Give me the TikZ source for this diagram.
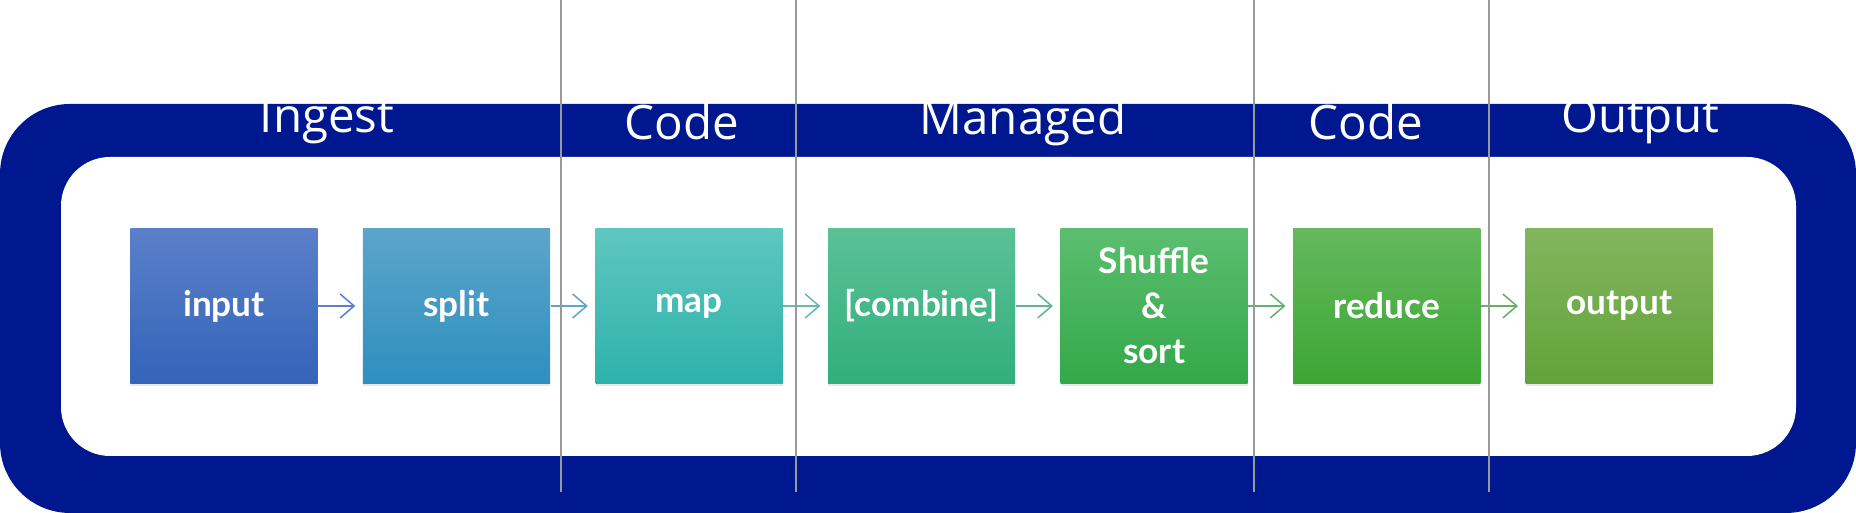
\documentclass[tikz,border=0pt]{standalone}
\usepackage{fontspec}
\setmainfont{Open Sans}
\newfontfamily\stagefont{Lato}
\usetikzlibrary{positioning,shadows,arrows.meta}
\definecolor{frameblue}{HTML}{00188F}
\definecolor{inputtop}{HTML}{5B80C9}
\definecolor{inputbot}{HTML}{3463B9}
\definecolor{splittop}{HTML}{5CA5CB}
\definecolor{splitbot}{HTML}{2E8FBE}
\definecolor{maptop}{HTML}{5EC6C0}
\definecolor{mapbot}{HTML}{2DB2AB}
\definecolor{combtop}{HTML}{5BC196}
\definecolor{combbot}{HTML}{31AF7B}
\definecolor{shuftop}{HTML}{5BBE6F}
\definecolor{shufbot}{HTML}{34A84A}
\definecolor{redtop}{HTML}{64B95D}
\definecolor{redbot}{HTML}{3DA634}
\definecolor{outtop}{HTML}{82B65E}
\definecolor{outbot}{HTML}{62A23A}
\tikzstyle{stage} = [rectangle, minimum width=1.87cm, minimum height=1.54cm, inner sep=0pt, align=center, text=white, font=\stagefont\bfseries\fontsize{10}{12.8}\selectfont, drop shadow={shadow xshift=0cm, shadow yshift=-0.03cm, opacity=0.18}]
\tikzstyle{phase} = [text=white, anchor=base, inner sep=0pt, font=\fontsize{13.5}{16}\selectfont]
\tikzstyle{arrow} = [line width=0.015cm, -{Straight Barb[length=0.14cm, width=0.24cm]}, shorten >=0.07cm]
\tikzstyle{divider} = [draw=black!40, line width=0.016cm]

\begin{document}
\begin{tikzpicture}[x=0.01cm, y=0.01cm, node distance=0.44cm]
	\useasboundingbox (0,0) rectangle (1856,513);
	% frame
	\fill [frameblue, rounded corners=0.7cm] (0,0) rectangle (1856,409);
	\fill [white, rounded corners=0.49cm] (61,57) rectangle (1796,356);
	% phases
	\node (ingest) [phase] at (327,380) {Ingest};
	\node (code1) [phase] at (682,373) {Code};
	\node (managed) [phase] at (1023,378) {Managed};
	\node (code2) [phase] at (1366,373) {Code};
	\node (outphase) [phase] at (1640,380) {Output};
	% stages
	\node (input) [stage, top color=inputtop, bottom color=inputbot] at (224,207) {input};
	\node (split) [stage, top color=splittop, bottom color=splitbot, right=of input] {split};
	\node (map) [stage, top color=maptop, bottom color=mapbot, right=of split] {map};
	\node (combine) [stage, top color=combtop, bottom color=combbot, right=of map] {[combine]};
	\node (shuffle) [stage, top color=shuftop, bottom color=shufbot, right=of combine] {Shuffle\\\&\\sort};
	\node (reduce) [stage, top color=redtop, bottom color=redbot, right=of shuffle] {reduce};
	\node (output) [stage, top color=outtop, bottom color=outbot, right=of reduce] {output};
	\draw [arrow, inputtop] (input) -- (split);
	\draw [arrow, splittop] (split) -- (map);
	\draw [arrow, maptop!80!gray] (map) -- (combine);
	\draw [arrow, combtop!80!gray] (combine) -- (shuffle);
	\draw [arrow, shuftop!80!gray] (shuffle) -- (reduce);
	\draw [arrow, redtop!80!gray] (reduce) -- (output);
	% dividers
	\foreach \x in {561,796,1254,1489}
		\draw [divider] (\x,21) -- (\x,513);
\end{tikzpicture}
\end{document}
